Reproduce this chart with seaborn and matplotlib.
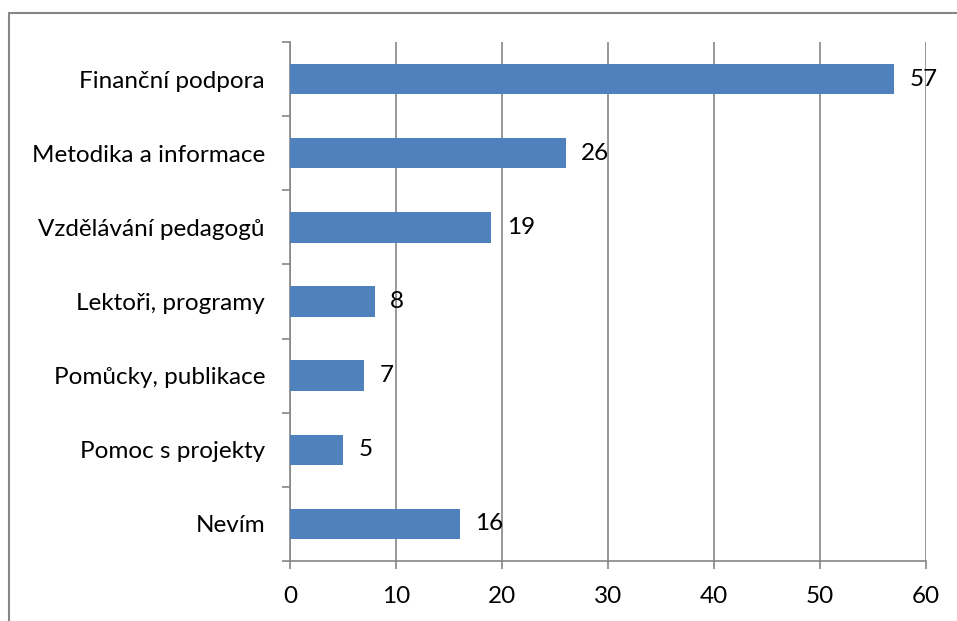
import matplotlib
matplotlib.use("Agg")
import matplotlib.pyplot as plt
import seaborn as sns
import pandas as pd
from matplotlib.lines import Line2D

categories = ["Finanční podpora", "Metodika a informace", "Vzdělávání pedagogů",
              "Lektoři, programy", "Pomůcky, publikace", "Pomoc s projekty", "Nevím"]
values = [57, 26, 19, 8, 7, 5, 16]
xticks = [0, 10, 20, 30, 40, 50, 60]

sns.set_theme(style="white")
plt.rcParams['font.family'] = ['Lato', 'DejaVu Sans']

df = pd.DataFrame({"cat": categories, "val": values})

fig = plt.figure(figsize=(9.57, 6.21), dpi=100)
ax = fig.add_axes([290/957, 1-561/621, (926-290)/957, (561-42)/621])

sns.barplot(data=df, x="val", y="cat", orient="h", color="#4F81BD",
            saturation=1, width=0.41, ax=ax, zorder=3, linewidth=0)

fs = 17.5
gray = "#868686"
ax.set_xlim(0, 60)
ax.set_ylim(len(categories)-0.5, -0.5)
ax.set_xticks(xticks)
ax.set_xticklabels([str(t) for t in xticks], fontsize=fs, color="black")
ax.set_yticks(range(len(categories)))
ax.set_yticklabels(categories, fontsize=fs, color="black")
ax.tick_params(axis="y", length=0, pad=18)
ax.tick_params(axis="x", length=6, color=gray, width=1.2, pad=12, direction="out", bottom=True)
# minor ticks at category boundaries on the y axis
ax.set_yticks([i - 0.5 for i in range(len(categories)+1)], minor=True)
ax.tick_params(axis="y", which="minor", length=6, color=gray, width=1.2, left=True, direction="out")
ax.grid(axis="x", color=gray, linewidth=1.2, zorder=0)
ax.set_axisbelow(True)
for s in ["top", "right"]:
    ax.spines[s].set_visible(False)
for s in ["left", "bottom"]:
    ax.spines[s].set_color(gray)
    ax.spines[s].set_linewidth(1.2)
ax.set_xlabel("")
ax.set_ylabel("")

for c in ax.containers:
    ax.bar_label(c, labels=[str(v) for v in values], padding=11, fontsize=fs, color="black")

# outer chart border (left and top)
fig.add_artist(Line2D([9/957, 9/957], [0, 1-13/621], transform=fig.transFigure, color=gray, linewidth=1.5))
fig.add_artist(Line2D([9/957, 1], [1-13/621, 1-13/621], transform=fig.transFigure, color=gray, linewidth=1.5))

fig.savefig("out.png", dpi=100)
